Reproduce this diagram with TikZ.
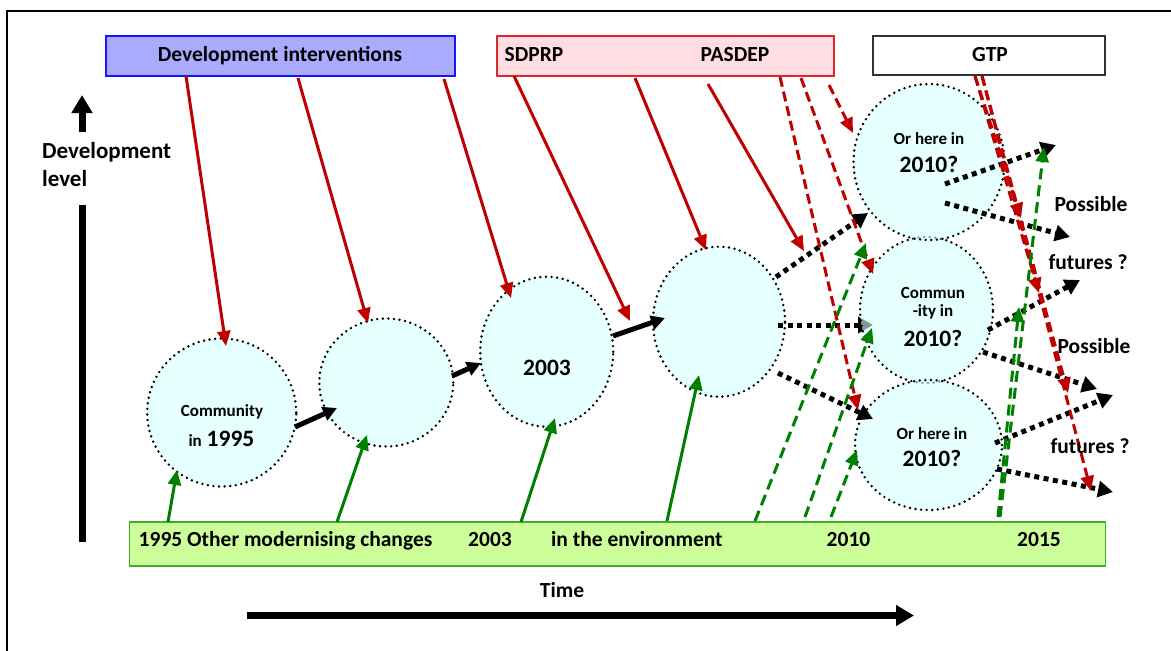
\documentclass[tikz,border=0pt]{standalone}
\usepackage{fontspec}
\setmainfont{Carlito}
\usetikzlibrary{arrows.meta,shapes.geometric}
\definecolor{intblue}{RGB}{170,170,255}
\definecolor{intblueline}{RGB}{20,20,255}
\definecolor{planpink}{RGB}{255,221,226}
\definecolor{planred}{RGB}{220,40,40}
\definecolor{envgreen}{RGB}{204,255,153}
\definecolor{envline}{RGB}{70,170,50}
\definecolor{commfill}{RGB}{213,255,255}
\definecolor{impred}{RGB}{192,0,0}
\definecolor{impgreen}{RGB}{0,128,0}
\begin{document}
\begin{tikzpicture}[x=1pt,y=-1pt,
  lbl/.style={font=\fontsize{21.5}{25}\selectfont\bfseries, inner sep=0pt, anchor=base},
  biglbl/.style={font=\fontsize{23}{27}\selectfont\bfseries, inner sep=0pt, anchor=base west},
  smalllbl/.style={font=\fontsize{17}{20}\selectfont\bfseries, inner sep=0pt, anchor=base},
  yearlbl/.style={font=\fontsize{23.5}{28}\selectfont\bfseries, inner sep=0pt, anchor=base},
  bar/.style={inner sep=0pt, line width=1.3pt},
  comm/.style={ellipse, draw=black, line width=2.7pt, dash pattern=on 0pt off 5.6pt,
    line cap=round, fill=commfill, fill opacity=0.6, text opacity=1, inner sep=0pt},
  redarrow/.style={draw=impred, line width=3pt, -{Triangle[length=15pt,width=13pt]}},
  reddash/.style={redarrow, dash pattern=on 10pt off 5pt},
  greenarrow/.style={draw=impgreen, line width=3pt, -{Triangle[length=15pt,width=13pt]}},
  greendash/.style={greenarrow, dash pattern=on 11pt off 6pt},
  jump/.style={line width=5pt, -{Triangle[length=14pt,width=14pt]}},
  future/.style={line width=5pt, dash pattern=on 5pt off 4.5pt,
    -{Triangle[length=15pt,width=16pt]}},
  axis/.style={line width=7pt},
]
\useasboundingbox (0,0) rectangle (1171,651);

% outer frame (open to the right and bottom)
\draw[line width=2pt] (7,651) -- (7,11) -- (1171,11);

% ---------- communities ----------
\node[comm, minimum width=149pt, minimum height=148pt] (c1) at (221.7,412.5) {};
\node[comm, minimum width=134pt, minimum height=128pt] (c2) at (386.3,382.5) {};
\node[comm, minimum width=133pt, minimum height=150pt] (c3) at (546.7,351.7) {};
\node[comm, minimum width=132pt, minimum height=150pt] (c4) at (719,321.7) {};

% step into the middle 2010 community
\coordinate (k2s) at (778,325); \coordinate (k2e) at (873,325);
\draw[future] (k2s) -- (k2e);

\node[comm, minimum width=133pt, minimum height=146pt] (c6) at (926.5,310) {};
\node[comm, minimum width=151pt, minimum height=156pt] (c5) at (929,162) {};
\node[comm, minimum width=147pt, minimum height=130pt] (c7) at (928.5,445) {};

% community labels
\node[smalllbl] (t1a) at (222,416) {Community};
\node[smalllbl, anchor=base east] (t1b) at (202,446.5) {in};
\node[yearlbl, anchor=base west] (t1c) at (206.5,446.5) {1995};
\node[yearlbl] (t3) at (547,375) {2003};
\node[smalllbl] (t5a) at (929,144) {Or here in};
\node[yearlbl] (t5b) at (929,172) {2010?};
\node[smalllbl] (t6a) at (933,298) {Commun};
\node[smalllbl] (t6b) at (933,316.5) {-ity in};
\node[yearlbl] (t6c) at (933,346.5) {2010?};
\node[smalllbl] (t7a) at (932,439) {Or here in};
\node[yearlbl] (t7b) at (932,466.5) {2010?};

% ---------- top boxes ----------
\node[bar, draw=intblueline, fill=intblue, minimum width=349pt, minimum height=40pt] (dib) at (280.5,56) {};
\node[lbl] (dit) at (280,61.5) {Development interventions};
\node[bar, draw=planred, fill=planpink, minimum width=337pt, minimum height=40pt] (pb) at (665.5,56) {};
\node[lbl] (sdprp) at (534,61.5) {SDPRP};
\node[lbl] (pasdep) at (735,61.5) {PASDEP};
\node[bar, draw=black!80, fill=white, minimum width=232pt, minimum height=39pt] (gb) at (989,55.5) {};
\node[lbl] (gtp) at (990,61.5) {GTP};

% ---------- environment box ----------
\node[bar, draw=envline, fill=envgreen, minimum width=976pt, minimum height=44pt] (eb) at (617.3,544) {};
\node[lbl, anchor=base west] (e1) at (138.5,546.5) {1995 Other modernising changes};
\node[lbl] (e2) at (490,546.5) {2003};
\node[lbl, anchor=base west] (e3) at (551,546.5) {in the environment};
\node[lbl] (e4) at (848.5,546.5) {2010};
\node[lbl] (e5) at (1039,546.5) {2015};

% ---------- axes ----------
\node[biglbl] (dl1) at (42,158) {Development};
\node[biglbl] (dl2) at (42,186) {level};
\coordinate (up1) at (82,132); \coordinate (up2) at (82,95);
\draw[axis, -{Triangle[length=18pt,width=20pt]}] (up1) -- (up2);
\coordinate (vb1) at (82,205); \coordinate (vb2) at (82,542);
\draw[axis] (vb1) -- (vb2);
\node[lbl] (time) at (562,597) {Time};
\coordinate (ta1) at (247,615.5); \coordinate (ta2) at (914,615.5);
\draw[line width=6.5pt, -{Triangle[length=18pt,width=20pt]}] (ta1) -- (ta2);

% ---------- development interventions ----------
\coordinate (r1s) at (186,76); \coordinate (r1e) at (226,346);
\coordinate (r2s) at (298,78); \coordinate (r2e) at (368,323);
\coordinate (r3s) at (444,79); \coordinate (r3e) at (511,298);
\coordinate (r4s) at (514,76); \coordinate (r4e) at (630,321);
\coordinate (r5s) at (635,78); \coordinate (r5e) at (706,250);
\coordinate (r6s) at (708,84); \coordinate (r6e) at (804,251);
\draw[redarrow] (r1s) -- (r1e);
\draw[redarrow] (r2s) -- (r2e);
\draw[redarrow] (r3s) -- (r3e);
\draw[redarrow] (r4s) -- (r4e);
\draw[redarrow] (r5s) -- (r5e);
\draw[redarrow] (r6s) -- (r6e);

% ---------- other modernising changes ----------
\coordinate (g1s) at (168,522); \coordinate (g1e) at (177,470);
\coordinate (g2s) at (337,522); \coordinate (g2e) at (367,435);
\coordinate (g3s) at (521,522); \coordinate (g3e) at (555,418);
\coordinate (g4s) at (667,521); \coordinate (g4e) at (699,375);
\draw[greenarrow] (g1s) -- (g1e);
\draw[greenarrow] (g2s) -- (g2e);
\draw[greenarrow] (g3s) -- (g3e);
\draw[greenarrow] (g4s) -- (g4e);

% ---------- steps between communities ----------
\coordinate (b1s) at (295,427); \coordinate (b1e) at (337,408);
\coordinate (b2s) at (452,376); \coordinate (b2e) at (481,363);
\coordinate (b3s) at (613,336); \coordinate (b3e) at (665,318);
\draw[jump] (b1s) -- (b1e);
\draw[jump] (b2s) -- (b2e);
\draw[jump] (b3s) -- (b3e);

% ---------- possible futures ----------
\coordinate (k1s) at (776,277); \coordinate (k1e) at (868,213);
\coordinate (k3s) at (778,373); \coordinate (k3e) at (873,419);
\coordinate (k4s) at (945,184); \coordinate (k4e) at (1056,145);
\coordinate (k5s) at (945,203); \coordinate (k5e) at (1070,237);
\coordinate (k6s) at (988,330); \coordinate (k6e) at (1080,280);
\coordinate (k7s) at (983,352); \coordinate (k7e) at (1097,389);
\coordinate (k8s) at (995,443); \coordinate (k8e) at (1113,395);
\coordinate (k9s) at (997,469); \coordinate (k9e) at (1113,492);
\draw[future] (k1s) -- (k1e);
\draw[future] (k3s) -- (k3e);
\draw[future] (k4s) -- (k4e);
\draw[future] (k5s) -- (k5e);
\draw[future] (k6s) -- (k6e);
\draw[future] (k7s) -- (k7e);
\draw[future] (k8s) -- (k8e);
\draw[future] (k9s) -- (k9e);

% ---------- PASDEP and GTP reaching 2010 and beyond ----------
\coordinate (d1s) at (780,77); \coordinate (d1e) at (858,410);
\coordinate (d2s) at (801,78); \coordinate (d2e) at (873,274);
\coordinate (d3s) at (829,85); \coordinate (d3e) at (853,133);
\draw[reddash] (d1s) -- (d1e);
\draw[reddash] (d2s) -- (d2e);
\draw[reddash] (d3s) -- (d3e);
\coordinate (h1s) at (975,76); \coordinate (h1e) at (1021,218);
\coordinate (h2s) at (975,76); \coordinate (h2e) at (1039,293);
\coordinate (h3s) at (982,76); \coordinate (h3e) at (1068,393);
\coordinate (h4s) at (982,76); \coordinate (h4e) at (1091,491);
\draw[reddash] (h1s) -- (h1e);
\draw[reddash] (h2s) -- (h2e);
\draw[reddash] (h3s) -- (h3e);
\draw[reddash] (h4s) -- (h4e);

\coordinate (e1s) at (755,521); \coordinate (e1e) at (866,243);
\coordinate (e2s) at (805,517); \coordinate (e2e) at (872,328);
\coordinate (e3s) at (831,517); \coordinate (e3e) at (857,450);
\coordinate (e4s) at (998,517); \coordinate (e4e) at (1019,307);
\coordinate (e5s) at (1000,517); \coordinate (e5e) at (1044,147);
\draw[greendash] (e1s) -- (e1e);
\draw[greendash] (e2s) -- (e2e);
\draw[greendash] (e3s) -- (e3e);
\draw[greendash] (e4s) -- (e4e);
\draw[greendash] (e5s) -- (e5e);

% ---------- side labels ----------
\node[lbl] (pf1) at (1091,211.5) {Possible};
\node[lbl] (ff1) at (1088,269) {futures ?};
\node[lbl] (pf2) at (1094,353) {Possible};
\node[lbl] (ff2) at (1090,453) {futures ?};
\end{tikzpicture}
\end{document}
